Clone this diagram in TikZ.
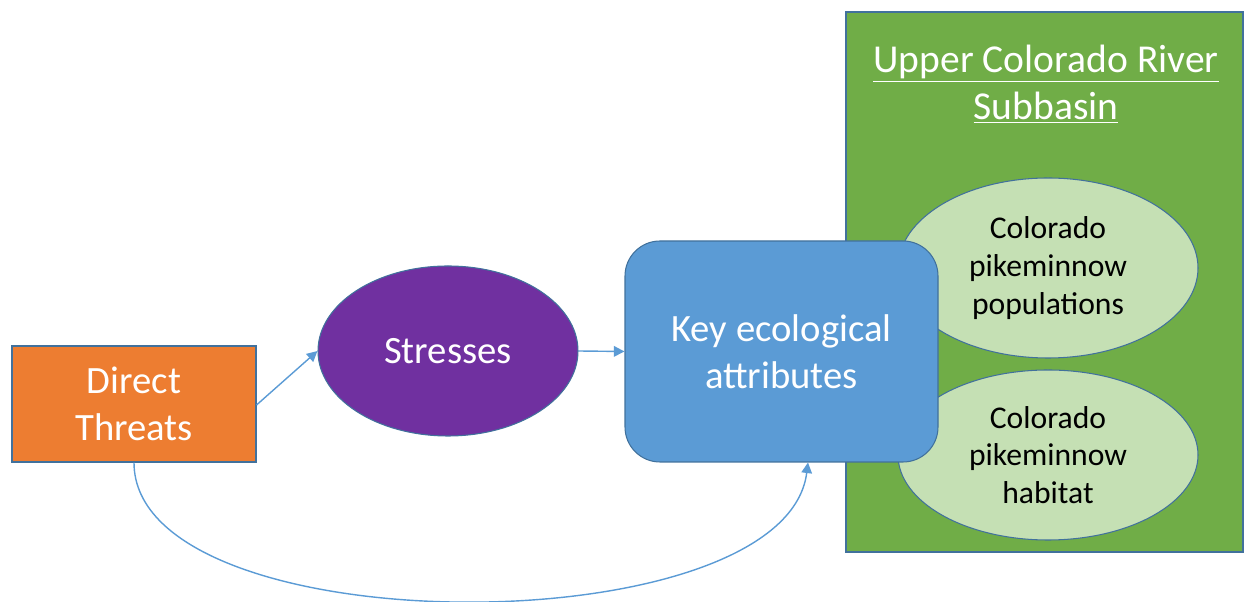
\documentclass[tikz,border=0pt]{standalone}
\usepackage{fontspec}
\setmainfont{Carlito}
\usetikzlibrary{arrows.meta,shapes.geometric}
\definecolor{threatorange}{HTML}{ED7D31}
\definecolor{stresspurple}{HTML}{7030A0}
\definecolor{keyblue}{HTML}{5B9BD5}
\definecolor{edgeblue}{HTML}{41719C}
\definecolor{basingreen}{HTML}{70AD47}
\definecolor{targetgreen}{HTML}{C5E0B4}
\begin{document}
\begin{tikzpicture}[
        box/.style={draw=edgeblue, line width=0.6pt, align=center, inner sep=0pt},
        link/.style={draw=keyblue, line width=0.8pt, -{Triangle[width=6pt,length=6pt]}},
        target/.style={box, ellipse, fill=targetgreen, minimum width=6cm, font=\fontsize{18}{21.5}\selectfont}
    ]
        \useasboundingbox (0,0) rectangle (24.96,12.04);
        \filldraw[fill=basingreen, draw=edgeblue, line width=0.6pt] (16.92,11.8) rectangle (24.86,1.0);
        \node[align=center, text=white, font=\fontsize{22.5}{27}\selectfont] (basin) at (20.92,10.36) {\underline{Upper Colorado River}\\\underline{Subbasin}};
        \node[target, minimum height=3.6cm] (pops) at (20.96,6.68) {Colorado\\pikeminnow\\populations};
        \node[target, minimum height=3.4cm] (habitat) at (20.96,2.94) {Colorado\\pikeminnow\\habitat};
        \node[box, fill=threatorange, minimum width=4.88cm, minimum height=2.32cm, text=white, font=\fontsize{22}{27}\selectfont] (threats) at (2.68,3.96) {Direct\\Threats};
        \node[box, ellipse, fill=stresspurple, minimum width=5.2cm, minimum height=3.4cm, text=white, font=\fontsize{22}{27}\selectfont] (stresses) at (8.96,5.02) {Stresses};
        \node[box, fill=keyblue, rounded corners=0.7cm, minimum width=6.26cm, minimum height=4.42cm, text=white, font=\fontsize{22}{27}\selectfont] (kea) at (15.63,5.01) {Key ecological\\attributes};
        % connectors
        \draw[link] (threats.east |- 0,3.94) -- (stresses.west);
        \draw[link] (stresses.east) -- (kea.west);
        \draw[link] (threats.south) .. controls (2.68,-0.9) and (15.7,-0.9) .. (kea.south -| 16.16,0);
\end{tikzpicture}
\end{document}
